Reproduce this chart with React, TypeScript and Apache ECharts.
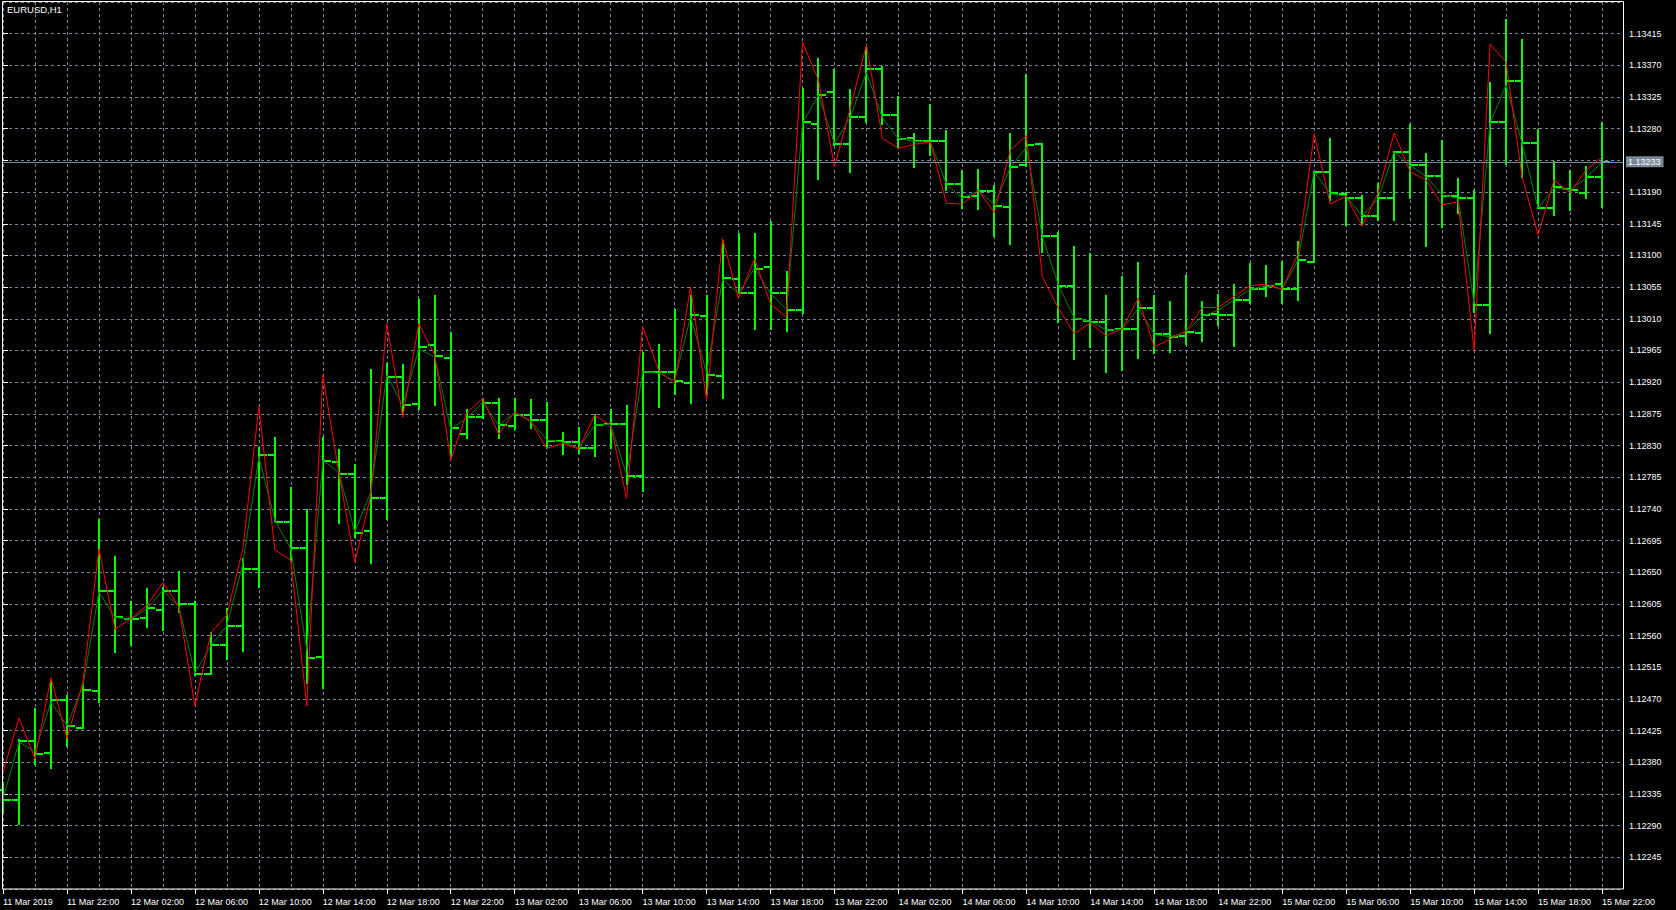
import React, { useEffect, useRef } from 'react';
import * as echarts from 'echarts';

const SYMBOL_TITLE = 'EURUSD,H1';
const BID = 1.13233;

// Hourly bars, 11 Mar 2019 18:00 .. 15 Mar 2019 22:00
const opens = [
  1.12340, 1.12326, 1.12410, 1.12393, 1.12468, 1.12429, 1.12481, 1.12624, 1.12584, 1.12585,
  1.12596, 1.12623, 1.12605, 1.12505, 1.12546, 1.12574, 1.12654, 1.12816, 1.12722, 1.12684,
  1.12530, 1.12807, 1.12790, 1.12708, 1.12755, 1.12927, 1.12889, 1.12973, 1.12954, 1.12847,
  1.12870, 1.12890, 1.12858, 1.12873, 1.12866, 1.12836, 1.12835, 1.12827, 1.12860, 1.12860,
  1.12787, 1.12935, 1.12934, 1.12919, 1.13014, 1.12929, 1.13066, 1.13047, 1.13084, 1.13046,
  1.13023, 1.13287, 1.13332, 1.13258, 1.13296, 1.13365, 1.13299, 1.13267, 1.13263, 1.13262,
  1.13202, 1.13184, 1.13191, 1.13169, 1.13229, 1.13258, 1.13128, 1.13057, 1.13007, 1.13006,
  1.12995, 1.12996, 1.13026, 1.12989, 1.12985, 1.12990, 1.13017, 1.13015, 1.13037, 1.13053,
  1.13060, 1.13052, 1.13090, 1.13219, 1.13187, 1.13181, 1.13156, 1.13182, 1.13247, 1.13228,
  1.13213, 1.13185, 1.13182, 1.13030, 1.13289, 1.13348, 1.13260, 1.13168, 1.13194, 1.13188,
  1.13212,
];
const highs = [
  1.12350, 1.12411, 1.12456, 1.12496, 1.12474, 1.12492, 1.12724, 1.12672, 1.12607, 1.12626,
  1.12627, 1.12651, 1.12607, 1.12564, 1.12598, 1.12669, 1.12826, 1.12840, 1.12770, 1.12739,
  1.12841, 1.12824, 1.12802, 1.12937, 1.12946, 1.12944, 1.13037, 1.13042, 1.12990, 1.12881,
  1.12896, 1.12896, 1.12896, 1.12895, 1.12890, 1.12848, 1.12855, 1.12873, 1.12881, 1.12886,
  1.12962, 1.12973, 1.13023, 1.13042, 1.13042, 1.13121, 1.13131, 1.13131, 1.13147, 1.13076,
  1.13336, 1.13379, 1.13364, 1.13335, 1.13395, 1.13368, 1.13325, 1.13273, 1.13314, 1.13277,
  1.13220, 1.13221, 1.13198, 1.13273, 1.13356, 1.13258, 1.13132, 1.13112, 1.13102, 1.13043,
  1.13069, 1.13089, 1.13042, 1.13034, 1.13071, 1.13034, 1.13044, 1.13058, 1.13088, 1.13085,
  1.13090, 1.13119, 1.13219, 1.13265, 1.13188, 1.13185, 1.13202, 1.13247, 1.13285, 1.13244,
  1.13262, 1.13208, 1.13192, 1.13345, 1.13435, 1.13406, 1.13278, 1.13233, 1.13220, 1.13226,
  1.13288,
];
const lows = [
  1.12310, 1.12292, 1.12378, 1.12372, 1.12403, 1.12428, 1.12465, 1.12536, 1.12546, 1.12572,
  1.12568, 1.12593, 1.12504, 1.12505, 1.12527, 1.12538, 1.12629, 1.12723, 1.12667, 1.12493,
  1.12485, 1.12720, 1.12700, 1.12663, 1.12726, 1.12875, 1.12882, 1.12887, 1.12812, 1.12840,
  1.12869, 1.12840, 1.12853, 1.12855, 1.12826, 1.12818, 1.12819, 1.12815, 1.12826, 1.12776,
  1.12765, 1.12884, 1.12903, 1.12890, 1.12903, 1.12897, 1.13046, 1.12995, 1.12995, 1.12992,
  1.13018, 1.13208, 1.13257, 1.13218, 1.13290, 1.13286, 1.13254, 1.13225, 1.13243, 1.13193,
  1.13168, 1.13166, 1.13127, 1.13116, 1.13227, 1.13105, 1.13005, 1.12953, 1.12970, 1.12934,
  1.12937, 1.12955, 1.12961, 1.12963, 1.12974, 1.12978, 1.13001, 1.12971, 1.13032, 1.13042,
  1.13033, 1.13036, 1.13090, 1.13179, 1.13143, 1.13143, 1.13151, 1.13151, 1.13181, 1.13113,
  1.13141, 1.13160, 1.13020, 1.12990, 1.13230, 1.13212, 1.13167, 1.13157, 1.13164, 1.13181,
  1.13169,
];
const closes = [
  1.12326, 1.12410, 1.12392, 1.12468, 1.12431, 1.12482, 1.12623, 1.12586, 1.12584, 1.12599,
  1.12623, 1.12605, 1.12505, 1.12546, 1.12574, 1.12654, 1.12816, 1.12722, 1.12684, 1.12528,
  1.12808, 1.12790, 1.12706, 1.12755, 1.12928, 1.12888, 1.12970, 1.12957, 1.12855, 1.12870,
  1.12890, 1.12859, 1.12873, 1.12866, 1.12837, 1.12835, 1.12827, 1.12859, 1.12860, 1.12787,
  1.12935, 1.12934, 1.12922, 1.13016, 1.12930, 1.13068, 1.13047, 1.13081, 1.13046, 1.13023,
  1.13289, 1.13328, 1.13258, 1.13297, 1.13365, 1.13299, 1.13265, 1.13262, 1.13262, 1.13202,
  1.13183, 1.13191, 1.13170, 1.13225, 1.13257, 1.13128, 1.13056, 1.13009, 1.13006, 1.12994,
  1.12995, 1.13026, 1.12989, 1.12984, 1.12991, 1.13016, 1.13016, 1.13037, 1.13052, 1.13056,
  1.13052, 1.13093, 1.13219, 1.13188, 1.13181, 1.13156, 1.13182, 1.13247, 1.13228, 1.13213,
  1.13185, 1.13181, 1.13030, 1.13289, 1.13348, 1.13259, 1.13168, 1.13197, 1.13193, 1.13212,
  1.13233,
];
// Red indicator line
const redLine = [
  1.12366, 1.12443, 1.12385, 1.12500, 1.12414, 1.12494, 1.12683, 1.12569, 1.12584, 1.12603,
  1.12635, 1.12601, 1.12460, 1.12564, 1.12589, 1.12683, 1.12885, 1.12682, 1.12667, 1.12460,
  1.12930, 1.12792, 1.12664, 1.12759, 1.13003, 1.12870, 1.13003, 1.12959, 1.12810, 1.12876,
  1.12897, 1.12846, 1.12878, 1.12864, 1.12826, 1.12833, 1.12825, 1.12873, 1.12859, 1.12755,
  1.12999, 1.12937, 1.12918, 1.13055, 1.12894, 1.13124, 1.13039, 1.13095, 1.13031, 1.13012,
  1.13403, 1.13349, 1.13226, 1.13310, 1.13399, 1.13266, 1.13252, 1.13258, 1.13261, 1.13174,
  1.13173, 1.13192, 1.13161, 1.13250, 1.13270, 1.13070, 1.13025, 1.12989, 1.13004, 1.12986,
  1.12996, 1.13039, 1.12970, 1.12981, 1.12993, 1.13026, 1.13026, 1.13042, 1.13057, 1.13059,
  1.13052, 1.13103, 1.13273, 1.13173, 1.13184, 1.13142, 1.13189, 1.13274, 1.13219, 1.13207,
  1.13172, 1.13176, 1.12965, 1.13400, 1.13375, 1.13212, 1.13129, 1.13207, 1.13189, 1.13221,
  1.13240,
];
// Dark green indicator line
const greenLine = [
  1.12328, 1.12409, 1.12395, 1.12466, 1.12432, 1.12489, 1.12622, 1.12586, 1.12583, 1.12598,
  1.12624, 1.12601, 1.12506, 1.12546, 1.12574, 1.12662, 1.12814, 1.12724, 1.12683, 1.12539,
  1.12809, 1.12792, 1.12707, 1.12764, 1.12930, 1.12887, 1.12967, 1.12956, 1.12853, 1.12869,
  1.12891, 1.12859, 1.12876, 1.12865, 1.12838, 1.12835, 1.12826, 1.12859, 1.12860, 1.12788,
  1.12935, 1.12933, 1.12922, 1.13013, 1.12933, 1.13066, 1.13046, 1.13082, 1.13046, 1.13023,
  1.13288, 1.13328, 1.13259, 1.13297, 1.13360, 1.13295, 1.13266, 1.13262, 1.13261, 1.13201,
  1.13181, 1.13192, 1.13172, 1.13225, 1.13254, 1.13127, 1.13058, 1.13011, 1.13006, 1.12994,
  1.12995, 1.13025, 1.12988, 1.12984, 1.12992, 1.13014, 1.13022, 1.13037, 1.13052, 1.13057,
  1.13052, 1.13094, 1.13219, 1.13188, 1.13184, 1.13156, 1.13181, 1.13247, 1.13228, 1.13212,
  1.13186, 1.13181, 1.13032, 1.13288, 1.13342, 1.13259, 1.13167, 1.13196, 1.13193, 1.13210,
  1.13233,
];
// Time-axis labels, one every 4 bars
const timeLabels = [
  '11 Mar 2019', '11 Mar 22:00', '12 Mar 02:00', '12 Mar 06:00', '12 Mar 10:00', '12 Mar 14:00',
  '12 Mar 18:00', '12 Mar 22:00', '13 Mar 02:00', '13 Mar 06:00', '13 Mar 10:00', '13 Mar 14:00',
  '13 Mar 18:00', '13 Mar 22:00', '14 Mar 02:00', '14 Mar 06:00', '14 Mar 10:00', '14 Mar 14:00',
  '14 Mar 18:00', '14 Mar 22:00', '15 Mar 02:00', '15 Mar 06:00', '15 Mar 10:00', '15 Mar 14:00',
  '15 Mar 18:00', '15 Mar 22:00',
];

const FONT = '"Liberation Sans", Arial, sans-serif';
const GRID_COLOR = '#778899';

export default function App() {
  const ref = useRef<HTMLDivElement>(null);

  useEffect(() => {
    const el = ref.current;
    if (!el) return;
    const chart = echarts.init(el, null, { renderer: 'svg' });
    const ohlc = opens.map((o, i) => [i, o, highs[i], lows[i], closes[i]]);
    const red = redLine.map((v, i) => [i, v]);
    const green = greenLine.map((v, i) => [i, v]);

    chart.setOption({
      animation: false,
      backgroundColor: '#000000',
      grid: { left: 2, top: 2, right: 53, bottom: 21, show: false },
      xAxis: {
        type: 'value',
        min: 0,
        max: 101.3125,
        interval: 4,
        axisLine: { show: false },
        axisTick: { show: true, length: 5, lineStyle: { color: '#ffffff', width: 1 } },
        axisLabel: {
          color: '#ffffff',
          fontFamily: FONT,
          fontSize: 9,
          align: 'left',
          margin: 8,
          showMaxLabel: false,
          formatter: (v: number) => {
            const k = Math.round(v);
            if (Math.abs(v - k) > 1e-6 || k % 4 !== 0) return '';
            return timeLabels[k / 4] ?? '';
          },
        },
        splitLine: { show: true, lineStyle: { color: GRID_COLOR, type: [3, 3], width: 1 } },
        minorTick: { show: false, splitNumber: 2 },
        minorSplitLine: { show: true, lineStyle: { color: GRID_COLOR, type: [3, 3], width: 1 } },
      },
      yAxis: {
        type: 'value',
        position: 'right',
        min: 1.122,
        max: 1.1346,
        interval: 0.00045,
        scale: true,
        axisLine: { show: false },
        axisTick: { show: true, length: 5, lineStyle: { color: '#ffffff', width: 1 } },
        axisLabel: {
          color: '#ffffff',
          fontFamily: FONT,
          fontSize: 9,
          margin: 6,
          showMinLabel: false,
          showMaxLabel: false,
          formatter: (v: number) => v.toFixed(5),
        },
        splitLine: { show: true, lineStyle: { color: GRID_COLOR, type: [3, 3], width: 1 } },
      },
      graphic: [
        {
          type: 'rect',
          z: 100,
          silent: true,
          shape: { x: 2.5, y: 1.5, width: 1621, height: 887.5 },
          style: { fill: 'none', stroke: '#ffffff', lineWidth: 1 },
        },
        {
          type: 'text',
          z: 101,
          left: 7,
          top: 4,
          silent: true,
          style: { text: SYMBOL_TITLE, fill: '#ffffff', fontFamily: FONT, fontSize: 9.5 },
        },
      ],
      series: [
        {
          type: 'custom',
          name: 'EURUSD',
          data: ohlc,
          encode: { x: 0, y: [1, 2, 3, 4] },
          silent: true,
          z: 2,
          renderItem: (params: any, api: any) => {
            const i = api.value(0);
            const pO = api.coord([i, api.value(1)]);
            const pH = api.coord([i, api.value(2)]);
            const pL = api.coord([i, api.value(3)]);
            const pC = api.coord([i, api.value(4)]);
            const x = Math.round(pO[0]);
            const st = { stroke: '#00ff00', lineWidth: 2 };
            const yo = Math.round(pO[1]);
            const yc = Math.round(pC[1]);
            return {
              type: 'group',
              children: [
                { type: 'line', shape: { x1: x, y1: Math.round(pH[1]) - 1, x2: x, y2: Math.round(pL[1]) + 1 }, style: st },
                { type: 'line', shape: { x1: x - 7, y1: yo, x2: x, y2: yo }, style: st },
                { type: 'line', shape: { x1: x, y1: yc, x2: x + 8, y2: yc }, style: st },
              ],
            };
          },
        },
        {
          type: 'line',
          name: 'green',
          data: green,
          symbol: 'none',
          silent: true,
          z: 3,
          itemStyle: { color: '#008000' },
          lineStyle: { color: '#008000', width: 1 },
          markLine: {
            silent: true,
            symbol: ['none', 'none'],
            precision: 5,
            data: [{ yAxis: BID }],
            lineStyle: { color: GRID_COLOR, type: 'solid', width: 1 },
            label: {
              show: true,
              position: 'end',
              distance: 3,
              formatter: BID.toFixed(5),
              color: '#ffffff',
              backgroundColor: GRID_COLOR,
              padding: [1, 3, 1, 2],
              fontFamily: FONT,
              fontSize: 9,
            },
          },
        },
        {
          type: 'line',
          name: 'red',
          data: red,
          symbol: 'none',
          silent: true,
          z: 4,
          itemStyle: { color: '#ff0000' },
          lineStyle: { color: '#ff0000', width: 1 },
        },
      ],
    });

    return () => {
      chart.dispose();
    };
  }, []);

  return (
    <div
      ref={ref}
      style={{ position: 'fixed', left: 0, top: 0, width: 1676, height: 910, background: '#000' }}
    />
  );
}
